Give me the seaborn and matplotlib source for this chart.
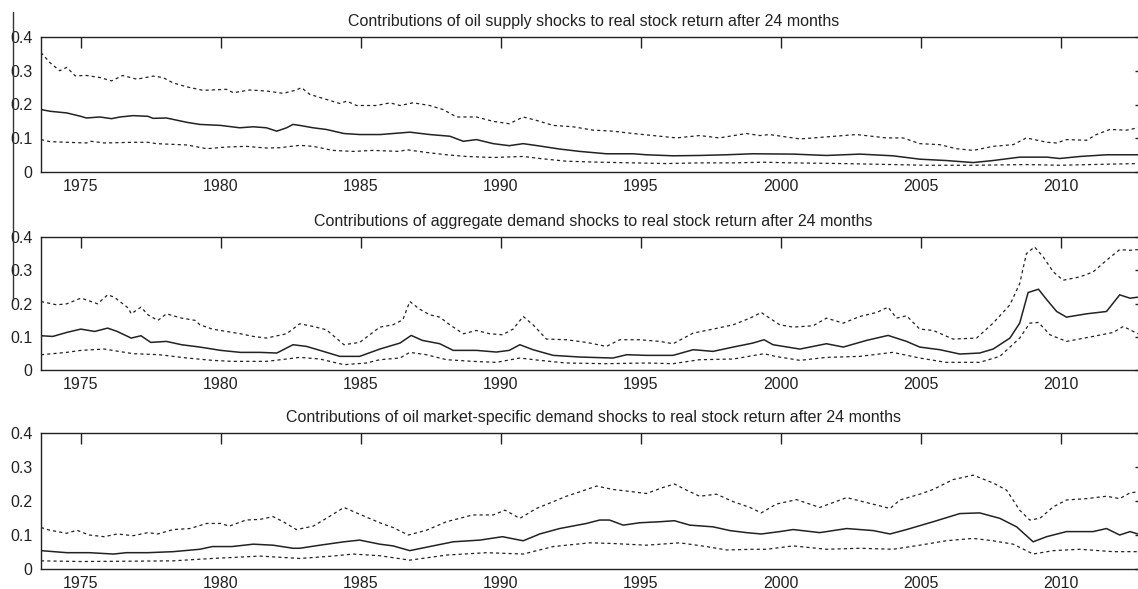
import matplotlib
matplotlib.use('Agg')
import matplotlib.pyplot as plt
import seaborn as sns
import pandas as pd
from matplotlib.lines import Line2D

# ---- panel 1: oil supply shocks ----
p1_up_x = [1973.58, 1973.9, 1974.25, 1974.5, 1974.8, 1975.2, 1975.68, 1976.1, 1976.5, 1977.0,
           1977.58, 1977.93, 1978.3, 1978.8, 1979.37, 1980.2, 1980.45, 1981.04, 1981.63, 1982.23,
           1982.7, 1982.88, 1983.18, 1983.77, 1984.25, 1984.5, 1984.85, 1985.56, 1986.04, 1986.4,
           1986.87, 1987.46, 1987.94, 1988.42, 1989.13, 1989.73, 1990.3, 1990.8, 1991.27, 1991.87,
           1992.58, 1993.3, 1994.0, 1994.72, 1995.44, 1996.27, 1997.1, 1997.8, 1998.77, 1999.25,
           1999.6, 2000.68, 2001.63, 2002.7, 2003.77, 2004.37, 2004.96, 2005.68, 2006.27, 2006.87,
           2007.58, 2008.3, 2008.77, 2009.5, 2009.85, 2010.2, 2010.92, 2011.27, 2011.75, 2012.35, 2012.75]
p1_up_y = [0.354, 0.324, 0.300, 0.310, 0.285, 0.286, 0.280, 0.270, 0.286, 0.275,
           0.284, 0.280, 0.264, 0.252, 0.242, 0.245, 0.235, 0.243, 0.240, 0.233,
           0.243, 0.250, 0.230, 0.215, 0.203, 0.210, 0.197, 0.197, 0.205, 0.197,
           0.205, 0.197, 0.185, 0.163, 0.163, 0.150, 0.143, 0.163, 0.153, 0.138,
           0.134, 0.124, 0.121, 0.114, 0.108, 0.101, 0.108, 0.101, 0.114, 0.108,
           0.111, 0.098, 0.104, 0.111, 0.101, 0.101, 0.084, 0.081, 0.069, 0.064,
           0.076, 0.081, 0.101, 0.088, 0.086, 0.096, 0.094, 0.111, 0.126, 0.124, 0.131]

p1_md_x = [1973.58, 1973.9, 1974.5, 1975.0, 1975.2, 1975.68, 1976.1, 1976.4, 1976.87, 1977.4,
           1977.58, 1978.06, 1978.8, 1979.25, 1980.0, 1980.68, 1981.16, 1981.63, 1982.0, 1982.35,
           1982.58, 1982.82, 1983.3, 1983.77, 1984.4, 1984.96, 1985.7, 1986.75, 1987.46, 1988.18,
           1988.66, 1989.13, 1989.73, 1990.3, 1990.8, 1991.39, 1992.1, 1992.82, 1993.77, 1994.72,
           1995.2, 1996.15, 1997.1, 1998.04, 1999.0, 2000.44, 2001.63, 2002.82, 2004.0, 2004.96,
           2005.9, 2006.87, 2007.58, 2008.53, 2009.5, 2009.96, 2010.68, 2011.63, 2012.75]
p1_md_y = [0.185, 0.180, 0.175, 0.165, 0.160, 0.163, 0.158, 0.163, 0.167, 0.165,
           0.159, 0.160, 0.147, 0.141, 0.138, 0.131, 0.134, 0.131, 0.121, 0.131,
           0.141, 0.138, 0.131, 0.126, 0.114, 0.111, 0.111, 0.118, 0.111, 0.106,
           0.091, 0.096, 0.084, 0.078, 0.084, 0.077, 0.068, 0.061, 0.054, 0.054,
           0.051, 0.048, 0.049, 0.051, 0.054, 0.053, 0.049, 0.053, 0.048, 0.038,
           0.034, 0.028, 0.034, 0.044, 0.044, 0.040, 0.046, 0.051, 0.051]

p1_lo_x = [1973.58, 1973.9, 1974.5, 1975.2, 1975.36, 1975.84, 1976.87, 1977.4, 1977.7, 1978.8,
           1979.5, 1980.2, 1980.9, 1981.63, 1982.1, 1982.82, 1983.3, 1984.0, 1984.73, 1985.44,
           1986.4, 1986.63, 1987.34, 1988.06, 1988.77, 1989.73, 1990.8, 1991.39, 1992.34, 1993.53,
           1994.72, 1995.91, 1997.1, 1998.3, 1999.37, 2000.44, 2002.2, 2004.0, 2005.2, 2006.87,
           2008.77, 2009.96, 2011.04, 2012.75]
p1_lo_y = [0.096, 0.090, 0.088, 0.086, 0.091, 0.086, 0.088, 0.088, 0.084, 0.080,
           0.069, 0.074, 0.076, 0.071, 0.072, 0.079, 0.076, 0.064, 0.061, 0.064,
           0.061, 0.066, 0.058, 0.051, 0.046, 0.043, 0.046, 0.040, 0.032, 0.029,
           0.027, 0.025, 0.027, 0.027, 0.029, 0.027, 0.025, 0.022, 0.020, 0.020,
           0.022, 0.020, 0.022, 0.025]

# ---- panel 2: aggregate demand shocks ----
p2_up_x = [1973.58, 1974.14, 1974.5, 1975.0, 1975.2, 1975.6, 1975.96, 1976.2, 1976.7, 1976.8,
           1977.15, 1977.4, 1977.75, 1978.06, 1978.6, 1979.1, 1979.25, 1979.7, 1980.2, 1980.7,
           1981.16, 1981.63, 1982.35, 1982.82, 1983.3, 1983.77, 1984.4, 1984.96, 1985.68, 1986.15,
           1986.5, 1986.75, 1987.1, 1987.46, 1987.82, 1988.18, 1988.66, 1989.13, 1989.6, 1990.06,
           1990.44, 1990.8, 1991.15, 1991.63, 1992.34, 1993.06, 1993.77, 1994.25, 1994.96, 1995.68,
           1996.15, 1996.87, 1997.58, 1998.3, 1998.9, 1999.3, 1999.6, 1999.96, 2000.44, 2001.15,
           2001.63, 2002.23, 2002.82, 2003.42, 2003.83, 2004.13, 2004.49, 2004.96, 2005.44, 2006.15,
           2006.99, 2007.58, 2008.18, 2008.53, 2008.77, 2009.06, 2009.37, 2009.73, 2010.08, 2010.68,
           2011.15, 2011.63, 2012.1, 2012.47, 2012.75]
p2_up_y = [0.206, 0.196, 0.199, 0.216, 0.211, 0.199, 0.226, 0.219, 0.186, 0.169,
           0.189, 0.166, 0.149, 0.169, 0.156, 0.149, 0.136, 0.123, 0.116, 0.109,
           0.101, 0.096, 0.109, 0.139, 0.131, 0.121, 0.076, 0.083, 0.129, 0.136,
           0.151, 0.206, 0.183, 0.166, 0.159, 0.136, 0.109, 0.119, 0.109, 0.106,
           0.123, 0.161, 0.136, 0.093, 0.091, 0.083, 0.071, 0.091, 0.091, 0.086,
           0.079, 0.111, 0.123, 0.136, 0.156, 0.173, 0.156, 0.136, 0.129, 0.133,
           0.156, 0.141, 0.161, 0.173, 0.189, 0.156, 0.163, 0.123, 0.119, 0.093,
           0.096, 0.141, 0.196, 0.260, 0.350, 0.370, 0.340, 0.295, 0.270, 0.280,
           0.295, 0.330, 0.362, 0.360, 0.362]

p2_md_x = [1973.58, 1974.0, 1974.5, 1975.0, 1975.5, 1975.96, 1976.3, 1976.8, 1977.15, 1977.5,
           1978.06, 1978.6, 1979.25, 1980.0, 1980.7, 1981.4, 1982.0, 1982.58, 1983.06, 1983.66,
           1984.25, 1984.96, 1985.68, 1986.4, 1986.8, 1987.2, 1987.82, 1988.3, 1989.13, 1989.84,
           1990.3, 1990.68, 1991.15, 1991.87, 1992.82, 1994.0, 1994.5, 1995.2, 1996.15, 1996.87,
           1997.58, 1998.3, 1999.0, 1999.4, 1999.72, 2000.68, 2001.63, 2002.23, 2003.06, 2003.83,
           2004.49, 2004.96, 2005.68, 2006.39, 2007.1, 2007.58, 2008.18, 2008.53, 2008.83, 2009.2,
           2009.5, 2009.85, 2010.2, 2010.92, 2011.63, 2012.1, 2012.47, 2012.75]
p2_md_y = [0.103, 0.101, 0.113, 0.123, 0.116, 0.126, 0.116, 0.096, 0.103, 0.083,
           0.086, 0.076, 0.069, 0.059, 0.053, 0.053, 0.051, 0.076, 0.071, 0.056,
           0.041, 0.041, 0.063, 0.081, 0.104, 0.089, 0.079, 0.059, 0.059, 0.054,
           0.059, 0.076, 0.061, 0.044, 0.039, 0.036, 0.046, 0.044, 0.044, 0.061,
           0.056, 0.069, 0.081, 0.091, 0.076, 0.063, 0.079, 0.069, 0.089, 0.104,
           0.086, 0.069, 0.061, 0.048, 0.051, 0.063, 0.096, 0.141, 0.233, 0.243,
           0.211, 0.176, 0.159, 0.169, 0.176, 0.226, 0.216, 0.219]

p2_lo_x = [1973.58, 1974.5, 1975.0, 1975.84, 1976.87, 1977.8, 1978.8, 1979.7, 1980.4, 1981.63,
           1982.35, 1982.82, 1983.54, 1984.4, 1985.2, 1985.68, 1986.4, 1986.75, 1987.34, 1988.06,
           1989.0, 1989.84, 1990.68, 1991.39, 1992.34, 1993.77, 1995.2, 1996.15, 1997.1, 1998.3,
           1999.4, 1999.8, 2000.68, 2001.63, 2002.82, 2004.0, 2004.96, 2005.9, 2007.1, 2007.82,
           2008.53, 2008.89, 2009.2, 2009.61, 2010.2, 2011.15, 2011.87, 2012.23, 2012.75]
p2_lo_y = [0.046, 0.053, 0.059, 0.063, 0.049, 0.046, 0.036, 0.029, 0.026, 0.026,
           0.033, 0.038, 0.033, 0.016, 0.021, 0.031, 0.036, 0.053, 0.046, 0.031,
           0.026, 0.023, 0.036, 0.029, 0.021, 0.019, 0.021, 0.019, 0.031, 0.033,
           0.049, 0.041, 0.029, 0.038, 0.041, 0.053, 0.036, 0.023, 0.023, 0.041,
           0.096, 0.141, 0.143, 0.106, 0.086, 0.101, 0.113, 0.131, 0.109]

# ---- panel 3: oil market-specific demand shocks ----
p3_up_x = [1973.58, 1973.9, 1974.5, 1974.86, 1975.3, 1975.84, 1976.3, 1976.87, 1977.4, 1977.75,
           1978.3, 1978.9, 1979.5, 1980.0, 1980.3, 1980.9, 1981.4, 1981.87, 1982.23, 1982.7,
           1983.3, 1983.77, 1984.4, 1984.96, 1985.68, 1986.15, 1986.7, 1987.34, 1988.06, 1989.0,
           1989.73, 1990.15, 1990.68, 1991.27, 1991.87, 1992.34, 1992.82, 1993.42, 1994.0, 1994.72,
           1995.2, 1995.8, 1996.2, 1996.63, 1997.1, 1997.7, 1998.3, 1998.9, 1999.3, 1999.84,
           2000.56, 2001.39, 2002.35, 2003.18, 2003.9, 2004.25, 2004.96, 2005.44, 2006.15, 2006.87,
           2007.58, 2008.06, 2008.53, 2008.89, 2009.25, 2009.73, 2010.2, 2010.92, 2011.63, 2012.1,
           2012.47, 2012.75]
p3_up_y = [0.122, 0.114, 0.105, 0.114, 0.100, 0.095, 0.103, 0.098, 0.107, 0.103,
           0.116, 0.119, 0.134, 0.134, 0.126, 0.144, 0.146, 0.154, 0.139, 0.116,
           0.126, 0.149, 0.181, 0.161, 0.136, 0.122, 0.100, 0.114, 0.139, 0.159,
           0.159, 0.173, 0.149, 0.178, 0.198, 0.214, 0.227, 0.244, 0.234, 0.227,
           0.222, 0.240, 0.250, 0.232, 0.214, 0.220, 0.198, 0.181, 0.165, 0.191,
           0.204, 0.181, 0.210, 0.193, 0.178, 0.203, 0.220, 0.234, 0.263, 0.276,
           0.253, 0.232, 0.173, 0.144, 0.149, 0.183, 0.203, 0.207, 0.214, 0.207,
           0.224, 0.227]

p3_md_x = [1973.58, 1974.5, 1975.3, 1976.17, 1976.63, 1977.4, 1978.3, 1979.25, 1979.7, 1980.4,
           1981.16, 1981.87, 1982.58, 1982.82, 1983.54, 1984.4, 1984.96, 1985.68, 1986.15, 1986.75,
           1987.46, 1988.3, 1989.25, 1990.06, 1990.8, 1991.39, 1992.1, 1993.06, 1993.53, 1993.88,
           1994.37, 1994.96, 1995.68, 1996.2, 1996.75, 1997.58, 1998.18, 1998.77, 1999.3, 1999.96,
           2000.44, 2001.39, 2002.35, 2003.3, 2003.9, 2004.49, 2005.44, 2006.39, 2007.1, 2007.82,
           2008.42, 2009.01, 2009.49, 2010.2, 2011.15, 2011.63, 2012.1, 2012.47, 2012.75]
p3_md_y = [0.054, 0.048, 0.048, 0.044, 0.048, 0.048, 0.051, 0.058, 0.066, 0.066,
           0.073, 0.070, 0.061, 0.061, 0.070, 0.080, 0.085, 0.073, 0.068, 0.054,
           0.066, 0.080, 0.085, 0.095, 0.083, 0.103, 0.119, 0.134, 0.144, 0.144,
           0.129, 0.136, 0.139, 0.142, 0.129, 0.124, 0.113, 0.107, 0.103, 0.110,
           0.116, 0.107, 0.119, 0.113, 0.103, 0.116, 0.139, 0.163, 0.165, 0.149,
           0.124, 0.080, 0.095, 0.110, 0.110, 0.119, 0.100, 0.110, 0.103]

p3_lo_x = [1973.58, 1975.0, 1976.87, 1978.3, 1979.7, 1981.4, 1982.82, 1984.0, 1984.73, 1985.68,
           1986.75, 1988.06, 1989.49, 1990.8, 1991.87, 1993.18, 1994.0, 1995.2, 1996.39, 1997.34,
           1998.06, 1999.0, 1999.5, 2000.44, 2001.63, 2002.82, 2004.0, 2004.96, 2005.9, 2006.87,
           2007.58, 2008.3, 2009.01, 2009.73, 2010.68, 2011.87, 2012.75]
p3_lo_y = [0.024, 0.022, 0.023, 0.024, 0.031, 0.038, 0.031, 0.038, 0.044, 0.039,
           0.026, 0.041, 0.048, 0.044, 0.066, 0.077, 0.075, 0.070, 0.077, 0.066,
           0.056, 0.058, 0.058, 0.068, 0.058, 0.061, 0.058, 0.070, 0.083, 0.090,
           0.083, 0.073, 0.044, 0.054, 0.058, 0.051, 0.051]

titles = [
    "Contributions of oil supply shocks to real stock return after 24 months",
    "Contributions of aggregate demand shocks to real stock return after 24 months",
    "Contributions of oil market-specific demand shocks to real stock return after 24 months",
]
panels = [
    ((p1_lo_x, p1_lo_y), (p1_md_x, p1_md_y), (p1_up_x, p1_up_y)),
    ((p2_lo_x, p2_lo_y), (p2_md_x, p2_md_y), (p2_up_x, p2_up_y)),
    ((p3_lo_x, p3_lo_y), (p3_md_x, p3_md_y), (p3_up_x, p3_up_y)),
]
x_ticks = [1975, 1980, 1985, 1990, 1995, 2000, 2005, 2010]
y_ticks = [0, 0.1, 0.2, 0.3, 0.4]
y_tick_labels = ["0", "0.1", "0.2", "0.3", "0.4"]

sns.set_theme(style="white")
plt.rcParams['font.family'] = ['Liberation Sans', 'DejaVu Sans']
plt.rcParams['text.color'] = '#222222'

fig = plt.figure(figsize=(11.38, 5.89), dpi=100)

# axes rectangles in pixels: (top, bottom)
rows = [(37, 172), (237, 370), (433, 569)]
W, H = 1138.0, 589.0
left_px, right_px = 41, 1146

for (top, bot), title, series in zip(rows, titles, panels):
    ax = fig.add_axes([left_px / W, 1 - bot / H, (right_px - left_px) / W, (bot - top) / H])
    lo, md, up = series
    for (xs, ys), style, lw in [(lo, (0, (2.5, 2.5)), 0.9), (md, '-', 1.1), (up, (0, (2.5, 2.5)), 0.9)]:
        df = pd.DataFrame({'year': xs, 'val': ys})
        sns.lineplot(data=df, x='year', y='val', ax=ax, color='#222222',
                     linewidth=lw, linestyle=style, estimator=None, sort=False)
    ax.set_xlim(1973.58, 2013.04)
    ax.set_ylim(0, 0.4)
    ax.set_xticks(x_ticks)
    ax.set_xticklabels([str(t) for t in x_ticks])
    ax.set_yticks(y_ticks)
    ax.set_yticklabels(y_tick_labels)
    ax.set_xlabel('')
    ax.set_ylabel('')
    ax.tick_params(direction='in', length=8, width=1, colors='#222222',
                   top=True, right=True, labelsize=11.5)
    ax.tick_params(axis='x', pad=5)
    ax.tick_params(axis='y', pad=6)
    for sp in ax.spines.values():
        sp.set_color('#222222')
        sp.set_linewidth(1.0)
    ax.set_title(title, fontsize=11.5, pad=8, color='#222222')

# stray vertical rule at the left edge of the scan
fig.add_artist(Line2D([12.5 / W, 12.5 / W], [1 - 12 / H, 1 - 300 / H],
                      color='#333333', linewidth=1.0))

fig.savefig('out.png', dpi=100)
